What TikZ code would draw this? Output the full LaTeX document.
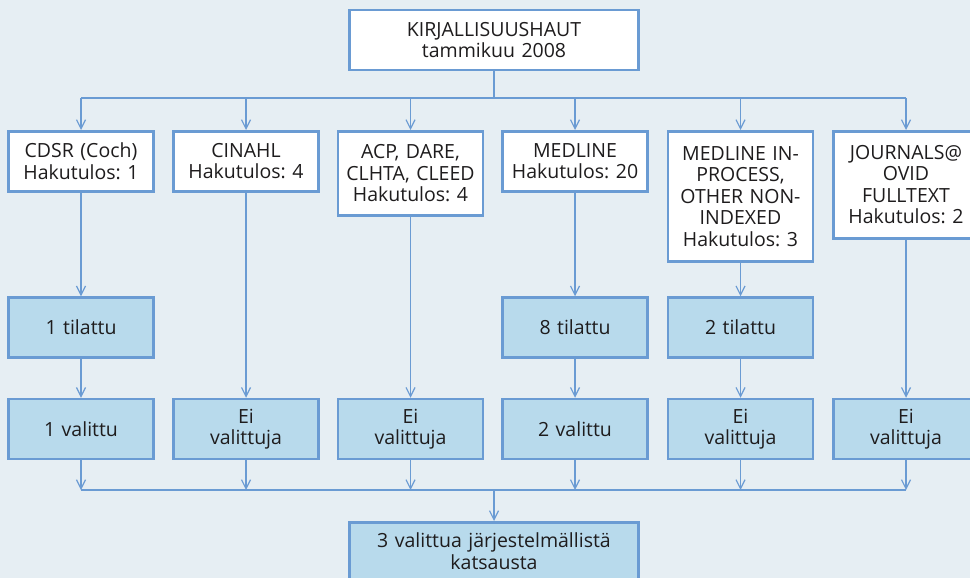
\documentclass[tikz,border=0pt]{standalone}
\usepackage{fontspec}
\setmainfont{Open Sans}
\frenchspacing
\usetikzlibrary{positioning, arrows.meta}
\definecolor{bgcol}{HTML}{E6EEF3}
\definecolor{linecol}{HTML}{6A9BD3}
\definecolor{boxfill}{HTML}{B8DAEC}
\definecolor{txtcol}{HTML}{1E1C1D}

\begin{document}
\begin{tikzpicture}[x=1pt, y=-1pt,
    base/.style={draw=linecol, line width=2.5pt, text=txtcol, align=center,
      text width=141pt, minimum width=145pt, inner sep=0pt,
      font=\fontsize{19.5}{21.5}\selectfont},
    whitebox/.style={base, fill=white, anchor=north},
    bluebox/.style={base, fill=boxfill, minimum height=60pt},
    link/.style={draw=linecol, line width=1.2pt},
    arr/.style={link, -{Straight Barb[length=9pt, width=9pt]}}]
    \useasboundingbox (0,0) rectangle (970,578);
    \clip (0,0) rectangle (970,578);
    \fill[bgcol] (0,0) rectangle (970,578);

    % Draw search box
    \node[whitebox, text width=275pt, minimum width=289pt, minimum height=60pt] (haut) at (494,9) {KIRJALLISUUSHAUT\\tammikuu 2008};

    % Draw database boxes
    \node[whitebox, minimum height=60pt] (cdsr) at (81,130) {CDSR (Coch)\\Hakutulos: 1};
    \node[whitebox, minimum height=60pt] (cinahl) at (246,130) {CINAHL\\Hakutulos: 4};
    \node[whitebox, minimum height=84pt] (acp) at (410.5,130) {ACP, DARE,\\CLHTA, CLEED\\Hakutulos: 4};
    \node[whitebox, minimum height=60pt] (medline) at (575,130) {MEDLINE\\Hakutulos: 20};
    \node[whitebox, minimum height=130pt] (inproc) at (740.5,130) {MEDLINE IN-\\PROCESS,\\OTHER NON-\\INDEXED\\Hakutulos: 3};
    \node[whitebox, minimum height=107pt] (journ) at (906,130) {JOURNALS@\\OVID\\FULLTEXT\\Hakutulos: 2};

    % Draw ordered and selected boxes
    \node[bluebox] (til1) at (81,327.5) {1 tilattu};
    \node[bluebox] (til4) at (575,327.5) {8 tilattu};
    \node[bluebox] (til5) at (740.5,327.5) {2 tilattu};
    \node[bluebox] (val1) at (81,429) {1 valittu};
    \node[bluebox] (val2) at (246,429) {Ei\\valittuja};
    \node[bluebox] (val3) at (410.5,429) {Ei\\valittuja};
    \node[bluebox] (val4) at (575,429) {2 valittu};
    \node[bluebox] (val5) at (740.5,429) {Ei\\valittuja};
    \node[bluebox] (val6) at (906,429) {Ei\\valittuja};

    % Draw result box
    \node[bluebox, anchor=north, text width=275pt, minimum width=289pt, minimum height=58pt] (tulos) at (494,521) {3 valittua järjestelmällistä\\katsausta};

    % Draw upper bus
    \coordinate (yla) at (494,98);
    \draw[link] (haut.south) -- (yla);
    \draw[link] (cdsr.north |- yla) -- (journ.north |- yla);
    \foreach \n in {cdsr,cinahl,acp,medline,inproc,journ}
      \draw[arr] (\n.north |- yla) -- (\n.north);

    % Draw columns
    \draw[arr] (cdsr) -- (til1);
    \draw[arr] (til1) -- (val1);
    \draw[arr] (cinahl) -- (val2);
    \draw[arr] (acp) -- (val3);
    \draw[arr] (medline) -- (til4);
    \draw[arr] (til4) -- (val4);
    \draw[arr] (inproc) -- (til5);
    \draw[arr] (til5) -- (val5);
    \draw[arr] (journ) -- (val6);

    % Draw lower bus
    \coordinate (ala) at (494,490);
    \foreach \n in {val1,val2,val3,val4,val5,val6}
      \draw[arr] (\n.south) -- (\n.south |- ala);
    \draw[link] (val1.south |- ala) -- (val6.south |- ala);
    \draw[arr] (ala) -- (tulos.north);
\end{tikzpicture}
\end{document}
